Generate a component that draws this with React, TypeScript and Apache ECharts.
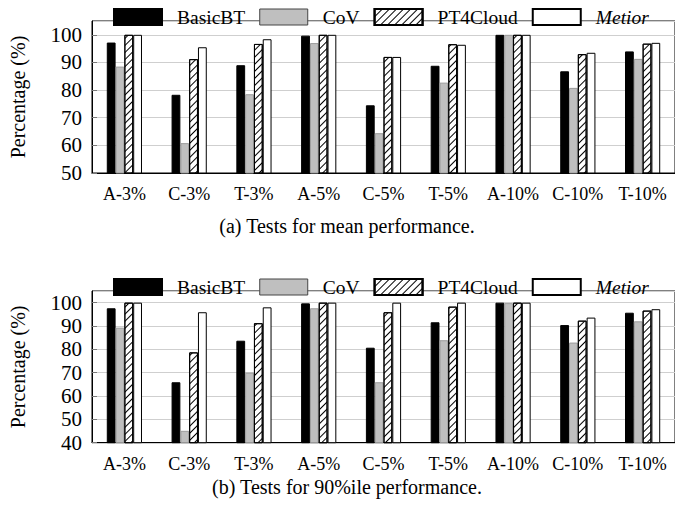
import React, { useEffect, useRef } from "react";
import * as echarts from "echarts";

const categories = ["A-3%", "C-3%", "T-3%", "A-5%", "C-5%", "T-5%", "A-10%", "C-10%", "T-10%"];
const seriesNames = ["BasicBT", "CoV", "PT4Cloud", "Metior"];

// (a) mean performance
const meanBasicBT = [97.2, 78.3, 89.0, 99.7, 74.5, 88.8, 100, 86.8, 94.0];
const meanCoV = [88.5, 60.8, 78.5, 97.0, 64.4, 82.7, 100, 80.8, 91.3];
const meanPT4Cloud = [100, 91.2, 96.7, 100, 92.0, 96.6, 100, 93.0, 96.8];
const meanMetior = [100, 95.5, 98.4, 100, 92.0, 96.4, 100, 93.5, 97.1];

// (b) 90%ile performance
const p90BasicBT = [97.6, 65.9, 83.7, 99.7, 80.7, 91.6, 100, 90.4, 95.7];
const p90CoV = [89.3, 45.1, 70.0, 97.6, 65.9, 83.9, 99.8, 82.9, 92.0];
const p90PT4Cloud = [100, 78.7, 91.2, 100, 95.9, 98.3, 100, 92.3, 96.6];
const p90Metior = [100, 95.9, 98.0, 100, 100, 100, 100, 93.6, 97.2];

const captions = ["(a) Tests for mean performance.", "(b) Tests for 90%ile performance."];
const yTitle = "Percentage (%)";

const FONT = '"Liberation Serif", "Times New Roman", serif';

export default function App() {
  const ref = useRef<HTMLDivElement>(null);
  useEffect(() => {
    if (!ref.current) return;
    const chart = echarts.init(ref.current, null, { renderer: "svg" });

    const hatch = {
      symbol: "rect",
      symbolSize: 1,
      dashArrayX: [1, 0],
      dashArrayY: [1, 3.5],
      rotation: -Math.PI / 4,
      color: "#000",
      backgroundColor: "#fff",
    };

    const styles = [
      { color: "#000", borderColor: "#000", borderWidth: 1 },
      { color: "#bfbfbf", borderColor: "#9a9a9a", borderWidth: 1 },
      { color: "#fff", borderColor: "#000", borderWidth: 1, decal: hatch },
      { color: "#fff", borderColor: "#000", borderWidth: 1 },
    ];

    const grids = [
      { left: 88.7, top: 21, width: 594, height: 152 },
      { left: 88.7, top: 291, width: 594, height: 151.7 },
    ].map((g) => ({
      ...g,
      show: true,
      borderColor: "#000",
      borderWidth: 1,
      backgroundColor: "transparent",
      containLabel: false,
    }));

    const mins = [50, 40];
    const dataSets = [
      [meanBasicBT, meanCoV, meanPT4Cloud, meanMetior],
      [p90BasicBT, p90CoV, p90PT4Cloud, p90Metior],
    ];

    const xAxis = [0, 1].map((i) => ({
      type: "category" as const,
      gridIndex: i,
      data: categories,
      axisLine: { lineStyle: { color: "#000", width: 1 } },
      axisTick: { alignWithLabel: true, length: 10, lineStyle: { color: "#999" } },
      axisLabel: { color: "#000", fontFamily: FONT, fontSize: 18, margin: 12, interval: 0 },
      splitLine: { show: false },
    }));

    const yAxis = [0, 1].map((i) => ({
      type: "value" as const,
      gridIndex: i,
      min: mins[i],
      max: 105,
      interval: 10,
      name: yTitle,
      nameLocation: "middle" as const,
      nameGap: 64,
      nameTextStyle: { color: "#000", fontFamily: FONT, fontSize: 20 },
      axisLine: { show: true, lineStyle: { color: "#000" } },
      axisTick: { show: true, inside: true, length: 5, lineStyle: { color: "#777" } },
      axisLabel: { color: "#000", fontFamily: FONT, fontSize: 21, margin: 10, showMaxLabel: false },
      splitLine: { show: true, lineStyle: { color: "#cfcfcf", width: 1 } },
    }));

    const series: any[] = [];
    [0, 1].forEach((gi) => {
      seriesNames.forEach((name, si) => {
        series.push({
          type: "bar",
          name,
          xAxisIndex: gi,
          yAxisIndex: gi,
          data: dataSets[gi][si],
          barWidth: 8.8,
          barGap: "0%",
          itemStyle: styles[si],
          emphasis: { disabled: true },
        });
      });
    });

    const legendData = seriesNames.map((name, si) => ({
      name,
      itemStyle: si === 1 ? { color: "#bfbfbf", borderColor: "#444", borderWidth: 1 } : undefined,
      textStyle: si === 3 ? { fontStyle: "italic", fontFamily: FONT, fontSize: 19.5 } : { fontFamily: FONT, fontSize: 19.5 },
    }));

    const legends = [7, 277].map((top) => ({
      top,
      left: 113,
      padding: 0,
      orient: "horizontal" as const,
      icon: "rect",
      itemWidth: 48,
      itemHeight: 16,
      itemGap: 14,
      selectedMode: false,
      data: legendData,
      textStyle: { color: "#000", fontFamily: FONT, fontSize: 19.5, padding: [0, 0, 0, 10] },
    }));

    chart.setOption({
      animation: false,
      grid: grids,
      xAxis,
      yAxis,
      legend: legends,
      series,
      graphic: [
        {
          type: "text",
          x: 347,
          y: 226,
          style: { text: captions[0], fill: "#000", font: `20px ${FONT}`, align: "center", verticalAlign: "middle" },
        },
        {
          type: "text",
          x: 347,
          y: 487,
          style: { text: captions[1], fill: "#000", font: `20px ${FONT}`, align: "center", verticalAlign: "middle" },
        },
      ],
    });
    return () => chart.dispose();
  }, []);
  return (
    <div
      ref={ref}
      style={{ position: "fixed", left: 0, top: 0, width: 675, height: 522, background: "#fff" }}
    />
  );
}
